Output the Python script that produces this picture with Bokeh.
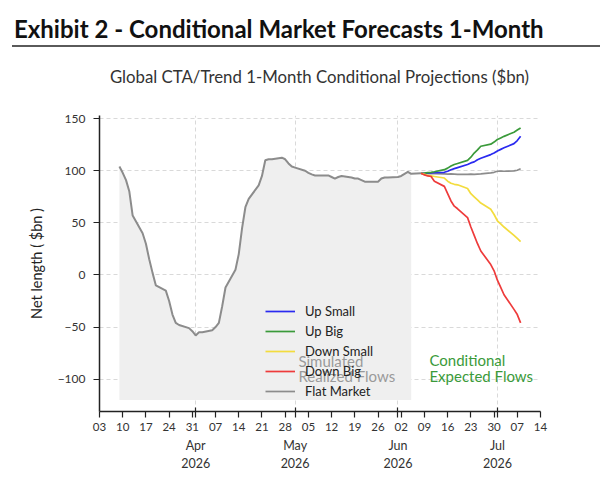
import pandas as pd
from bokeh.plotting import figure
from bokeh.models import (Range1d, FixedTicker, DatetimeTickFormatter, DatetimeAxis,
                          Legend, LegendItem, Label, Div)
from bokeh.layouts import column
from bokeh.embed import file_html
from bokeh.resources import INLINE

FONT = "Lato"

# Simulated realized positioning ($bn), business days
history_dates = [
    "2026-03-09", "2026-03-10", "2026-03-11", "2026-03-12", "2026-03-13",
    "2026-03-16", "2026-03-17", "2026-03-18", "2026-03-19", "2026-03-20",
    "2026-03-23", "2026-03-24", "2026-03-25", "2026-03-26", "2026-03-27",
    "2026-03-30", "2026-03-31", "2026-04-01", "2026-04-02", "2026-04-03",
    "2026-04-06", "2026-04-07", "2026-04-08", "2026-04-09", "2026-04-10",
    "2026-04-13", "2026-04-14", "2026-04-15", "2026-04-16", "2026-04-17",
    "2026-04-20", "2026-04-21", "2026-04-22", "2026-04-23", "2026-04-24",
    "2026-04-27", "2026-04-28", "2026-04-29", "2026-04-30", "2026-05-01",
    "2026-05-04", "2026-05-05", "2026-05-06", "2026-05-07", "2026-05-08",
    "2026-05-11", "2026-05-12", "2026-05-13", "2026-05-14", "2026-05-15",
    "2026-05-18", "2026-05-19", "2026-05-20", "2026-05-21", "2026-05-22",
    "2026-05-25", "2026-05-26", "2026-05-27", "2026-05-28", "2026-05-29",
    "2026-06-01", "2026-06-02", "2026-06-03", "2026-06-04", "2026-06-05",
    "2026-06-08",
]
history_values = [
    104, 98, 91, 80, 57,
    40, 30, 15, 2, -10,
    -15, -25, -38, -46, -48,
    -51, -54, -58, -55, -55,
    -53, -50, -46, -30, -12,
    5, 20, 45, 65, 73,
    86, 95, 110, 111, 111,
    112.5, 111, 107, 104, 103,
    100, 98, 96.5, 95.5, 95.5,
    95.5, 94, 92.5, 94, 95,
    93.5, 92.5, 92.5, 91, 89.5,
    89.5, 89.5, 92.5, 93.5, 93.5,
    94, 95, 97, 99, 97,
    97.5,
]
shade_end = "2026-06-05"
shade_floor = -120

# Conditional 1-month projections ($bn)
proj_dates = [
    "2026-06-08", "2026-06-09", "2026-06-10", "2026-06-11", "2026-06-12",
    "2026-06-15", "2026-06-16", "2026-06-17", "2026-06-18", "2026-06-19",
    "2026-06-22", "2026-06-23", "2026-06-24", "2026-06-25", "2026-06-26",
    "2026-06-29", "2026-06-30", "2026-07-01", "2026-07-02", "2026-07-03",
    "2026-07-06", "2026-07-07", "2026-07-08",
]
up_small = [97.5, 97.6, 97.8, 98, 98.2, 98.5, 99.5, 101, 102, 103,
            106, 107.5, 108.5, 110.5, 112, 115.5, 117, 119, 120.5, 122,
            126, 129, 133]
up_big = [97.5, 97.8, 98.2, 98.5, 99, 101, 102.5, 104.5, 106, 107,
          110, 113, 117, 120, 123.5, 125.5, 127.5, 130, 131.5, 133,
          137, 139, 141]
down_small = [97.5, 96.5, 95.5, 95, 94.5, 93, 90, 88, 87, 86.5,
              83, 78, 75, 72, 69, 63, 58, 52, 49, 46,
              38, 35, 32]
down_big = [97.5, 96, 95, 94.5, 90, 85, 78, 71, 66, 63.5,
            55, 46, 38, 30, 23, 10, 4, -5, -12, -19,
            -33, -38, -46]
flat_market = [97.5, 97.3, 97.2, 97.4, 97.3, 97, 96.8, 97, 96.8, 96.6,
               96.5, 96.8, 96.6, 96.8, 97, 98, 98.5, 99.5, 99.6, 99.5,
               99.8, 100.5, 102]

y_ticks = [-100, -50, 0, 50, 100, 150]


def ms(d):
    return int((pd.Timestamp(d) - pd.Timestamp("1970-01-01")) // pd.Timedelta("1ms"))


hist_ms = [ms(d) for d in history_dates]
proj_ms = [ms(d) for d in proj_dates]

# polygon under the realized line, closed along the floor
shade_x = [t for t in hist_ms if t <= ms(shade_end)]
shade_top = history_values[:len(shade_x)]
poly_x = shade_x + shade_x[::-1]
poly_y = shade_top + [shade_floor] * len(shade_x)

week_ticks = [ms(d) for d in pd.date_range("2026-03-03", "2026-07-14", freq="7D")]
month_ticks = [ms(d) for d in pd.date_range("2026-04-01", "2026-07-01", freq="MS")]

p = figure(width=600, height=386, x_axis_type="datetime",
           x_range=Range1d(ms("2026-03-03"), ms("2026-07-14")),
           y_range=Range1d(-131, 153),
           output_backend="svg", toolbar_location=None,
           min_border_left=99, min_border_right=60,
           min_border_top=15, min_border_bottom=75,
           background_fill_color="white", border_fill_color="white")
p.outline_line_color = None

# grid: horizontal at value ticks, vertical at month starts
p.ygrid.ticker = FixedTicker(ticks=y_ticks)
p.xgrid.ticker = FixedTicker(ticks=month_ticks)
for g in (p.xgrid[0], p.ygrid[0]):
    g.grid_line_color = "#d9d9d9"
    g.grid_line_dash = "4 3"
    g.grid_line_width = 1

p.patch(poly_x, poly_y, fill_color="#efefef", line_color=None)
p.line(hist_ms, history_values, line_color="#8c8c8c", line_width=2)

colors = {
    "Up Small": "#2a2af0",
    "Up Big": "#3a9a3a",
    "Down Small": "#f3dc3e",
    "Down Big": "#ee3b3b",
    "Flat Market": "#8c8c8c",
}
series = {
    "Up Small": up_small,
    "Up Big": up_big,
    "Down Small": down_small,
    "Down Big": down_big,
    "Flat Market": flat_market,
}
rmap = {}
for name in ["Flat Market", "Up Small", "Up Big", "Down Small", "Down Big"]:
    rmap[name] = p.line(proj_ms, series[name], line_color=colors[name], line_width=1.7)
legend = Legend(items=[LegendItem(label=n, renderers=[rmap[n]])
                       for n in ["Up Small", "Up Big", "Down Small", "Down Big", "Flat Market"]],
                location=(166, 12), background_fill_alpha=0, border_line_alpha=0,
                padding=0, margin=0, spacing=4, glyph_width=30, glyph_height=16,
                label_height=16, label_standoff=10,
                label_text_font=FONT, label_text_font_size="13px",
                label_text_color="#222222")
p.add_layout(legend)

# region annotations
for txt, y in (("Simulated", -83), ("Realized Flows", -97)):
    p.add_layout(Label(x=ms("2026-05-02"), y=y, text=txt, text_font=FONT,
                       text_font_size="15px", text_color="#9a9a9a",
                       text_baseline="middle"))
for txt, y in (("Conditional", -82), ("Expected Flows", -97)):
    p.add_layout(Label(x=ms("2026-06-10 12:00"), y=y, text=txt, text_font=FONT,
                       text_font_size="15px", text_color="#3a9a3a",
                       text_baseline="middle"))

# y axis
ya = p.yaxis[0]
ya.ticker = FixedTicker(ticks=y_ticks)
ya.axis_label = "Net length ( $bn )"
ya.axis_label_text_font = FONT
ya.axis_label_text_font_size = "14.5px"
ya.axis_label_text_font_style = "normal"
ya.axis_label_text_color = "#222222"
ya.axis_label_standoff = 10

# x axis: weekly day numbers, month starts as minor ticks
xa = p.xaxis[0]
xa.ticker = FixedTicker(ticks=week_ticks, minor_ticks=month_ticks)
fmt_day = {k: "%d" for k in ["microseconds", "milliseconds", "seconds", "minsec",
                             "minutes", "hourmin", "hours", "days", "months", "years"]}
xa.formatter = DatetimeTickFormatter(strip_leading_zeros=False, **fmt_day)
xa.minor_tick_in = 4
xa.minor_tick_out = 6

for ax in (xa, ya):
    ax.axis_line_color = "#222222"
    ax.axis_line_width = 1.5
    ax.major_tick_line_color = "#222222"
    ax.major_tick_line_width = 1.2
    ax.major_tick_in = 0
    ax.major_tick_out = 6
    ax.major_label_text_font = FONT
    ax.major_label_text_color = "#333333"
xa.major_label_text_font_size = "11.5px"
xa.major_label_standoff = 5
ya.major_label_text_font_size = "12px"
ya.major_label_standoff = 8
ya.minor_tick_line_color = None
xa.minor_tick_line_color = "#222222"
xa.minor_tick_line_width = 1.2

# month / year labels under the day numbers
fmt_month = {k: "%b\n%Y" for k in fmt_day}
month_axis = DatetimeAxis(ticker=FixedTicker(ticks=month_ticks),
                          formatter=DatetimeTickFormatter(**fmt_month))
month_axis.axis_line_color = None
month_axis.major_tick_line_color = None
month_axis.minor_tick_line_color = None
month_axis.major_tick_in = 0
month_axis.major_tick_out = 0
month_axis.major_label_standoff = 4
month_axis.major_label_text_font = FONT
month_axis.major_label_text_font_size = "12.5px"
month_axis.major_label_text_color = "#333333"
p.add_layout(month_axis, "below")

header = Div(text=(
    '<div style="position:relative;width:600px;height:100px;font-family:Lato,sans-serif;">'
    '<div style="position:absolute;left:14px;top:12px;font-size:24px;font-weight:bold;'
    'color:#111;white-space:nowrap;">Exhibit 2 - Conditional Market Forecasts 1-Month</div>'
    '<div style="position:absolute;left:12px;width:588px;top:45px;height:2px;'
    'background:#5a5a5a;"></div>'
    '<div style="position:absolute;left:79px;width:481px;top:65px;text-align:center;'
    'font-size:16.8px;color:#333;white-space:nowrap;">'
    'Global CTA/Trend 1-Month Conditional Projections ($bn)</div>'
    '</div>'), width=600, height=100, margin=(0, 0, 0, 0))
p.margin = (0, 0, 0, 0)

layout = column(header, p, spacing=0)
open("out.html", "w").write(file_html(layout, INLINE))
